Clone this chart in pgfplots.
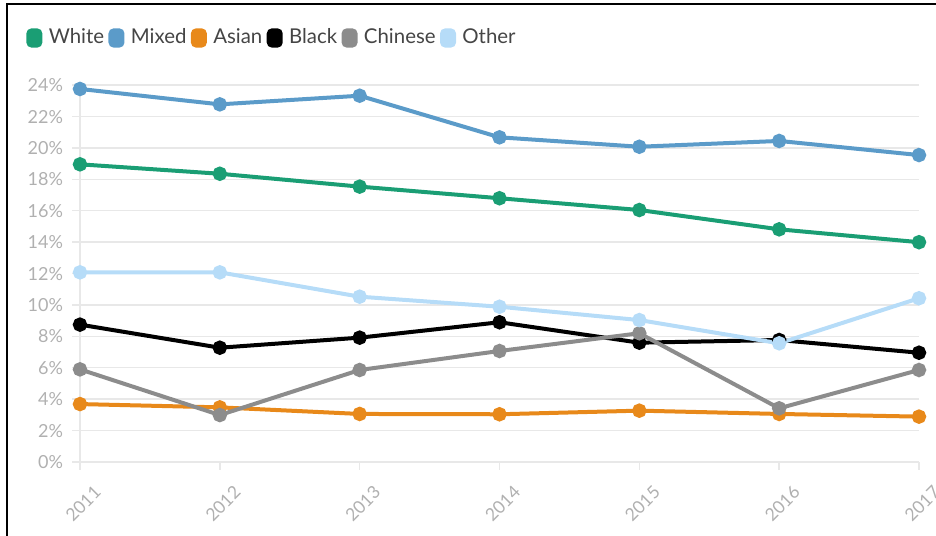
\documentclass[border=0pt]{standalone}
\usepackage{fontspec}
\setmainfont{Lato}
\usepackage{pgfplots}
\pgfplotsset{compat=1.18}
\definecolor{cWhite}{HTML}{1A9E74}
\definecolor{cMixed}{HTML}{5B9BC9}
\definecolor{cAsian}{HTML}{E8891A}
\definecolor{cBlack}{HTML}{000000}
\definecolor{cChinese}{HTML}{8C8C8C}
\definecolor{cOther}{HTML}{B6DCF8}
\definecolor{gridgray}{HTML}{E8E8E8}
\definecolor{ticklab}{HTML}{B0B0B0}
\definecolor{legtext}{HTML}{454545}
\begin{document}
\begin{tikzpicture}
\path[use as bounding box] (-40pt,-36.5pt) rectangle (428pt,231pt);
\draw[line width=1.2pt, black] (-36.5pt,-40pt) -- (-36.5pt,229pt) -- (430pt,229pt);
\begin{axis}[
  at={(0pt,0pt)}, anchor=south west,
  scale only axis, width=419.5pt, height=188.4pt,
  xmin=2011, xmax=2017, ymin=0, ymax=24,
  clip=false,
  xtick={2011,2012,...,2017},
  ytick={0,2,...,24},
  /pgf/number format/assume math mode=true,
  x tick label style={/pgf/number format/1000 sep={}, rotate=45, anchor=east, font=\fontsize{8.8}{10}\selectfont, text=ticklab, yshift=-13pt, xshift=3pt},
  y tick label style={font=\fontsize{9}{10}\selectfont, text=ticklab, xshift=-1pt},
  yticklabel={\pgfmathprintnumber{\tick}\%},
  axis x line*=bottom, axis y line*=left,
  axis line style={draw=gridgray, line width=1pt, -},
  ymajorgrids, grid style={draw=gridgray, line width=0.7pt},
  major tick length=4pt,
  tick style={draw=gridgray, line width=0.7pt},
  xtick pos=bottom, ytick pos=left,
  tick align=outside,
  every axis plot/.append style={line width=2pt, mark=*, mark size=2.6pt, mark options={solid}},
  legend columns=-1,
  legend style={at={(-0.0644,1.1253)}, anchor=west, draw=none, fill=none, inner sep=0pt,
    font=\fontsize{10.2}{12}\selectfont, text=legtext,
    nodes={inner sep=1pt, text=legtext},
    /tikz/every even column/.append style={column sep=1.2pt},
    /tikz/every odd column/.append style={column sep=2.2pt}},
  legend image code/.code={\fill[#1, draw=none, rounded corners=2.5pt] (0pt,-4.8pt) rectangle (8pt,4.8pt);},
]
\addplot[color=cWhite] coordinates {(2011,18.96) (2012,18.36) (2013,17.54) (2014,16.80) (2015,16.05) (2016,14.82) (2017,14.00)};
\addlegendentry{White}
\addplot[color=cMixed] coordinates {(2011,23.76) (2012,22.78) (2013,23.33) (2014,20.68) (2015,20.08) (2016,20.45) (2017,19.55)};
\addlegendentry{Mixed}
\addplot[color=cAsian] coordinates {(2011,3.69) (2012,3.48) (2013,3.06) (2014,3.04) (2015,3.27) (2016,3.06) (2017,2.89)};
\addlegendentry{Asian}
\addplot[color=cBlack] coordinates {(2011,8.75) (2012,7.28) (2013,7.92) (2014,8.90) (2015,7.60) (2016,7.77) (2017,6.96)};
\addlegendentry{Black}
\addplot[color=cChinese] coordinates {(2011,5.90) (2012,2.99) (2013,5.86) (2014,7.07) (2015,8.20) (2016,3.42) (2017,5.86)};
\addlegendentry{Chinese}
\addplot[color=cOther] coordinates {(2011,12.08) (2012,12.08) (2013,10.53) (2014,9.89) (2015,9.04) (2016,7.56) (2017,10.43)};
\addlegendentry{Other}
\end{axis}
\end{tikzpicture}
\end{document}
